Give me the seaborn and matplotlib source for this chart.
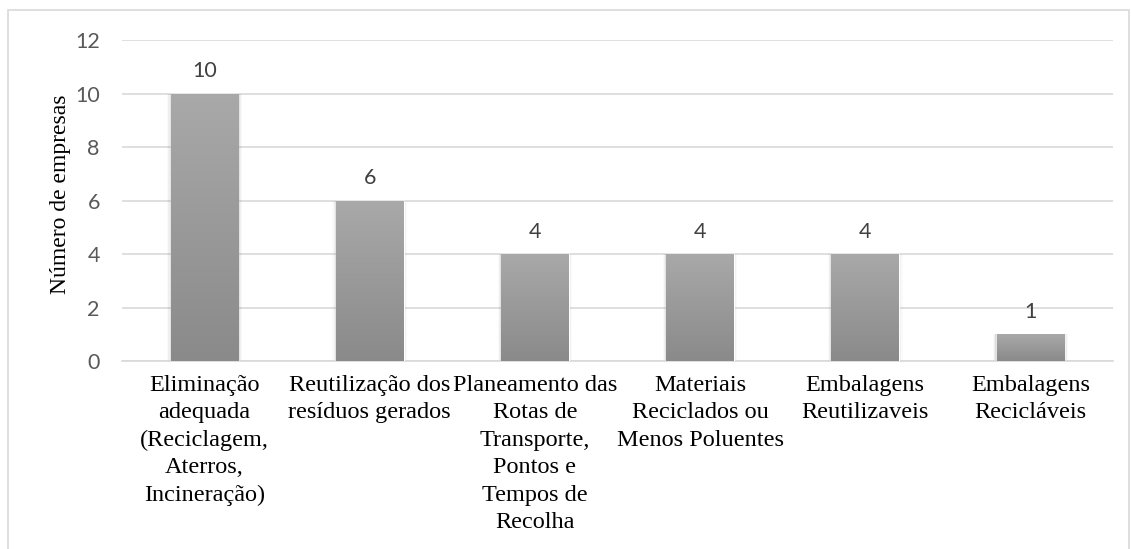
import numpy as np
import pandas as pd
import seaborn as sns
import matplotlib.pyplot as plt
from matplotlib.patches import Rectangle
from matplotlib.colors import LinearSegmentedColormap

categories = [
    "Eliminação\nadequada\n(Reciclagem,\nAterros,\nIncineração)",
    "Reutilização dos\nresíduos gerados",
    "Planeamento das\nRotas de\nTransporte,\nPontos e\nTempos de\nRecolha",
    "Materiais\nReciclados ou\nMenos Poluentes",
    "Embalagens\nReutilizaveis",
    "Embalagens\nRecicláveis",
]
values = [10, 6, 4, 4, 4, 1]
y_ticks = [0, 2, 4, 6, 8, 10, 12]
y_label = "Número de empresas"

df = pd.DataFrame({"cat": categories, "val": values})

sns.set_theme(style="white")
fig = plt.figure(figsize=(11.31, 5.49), dpi=100)
ax = fig.add_axes([0.1079, 0.3424, 0.8762, 0.5847])

sns.barplot(data=df, x="cat", y="val", ax=ax, color="#9a9a9a", width=0.41,
            saturation=1, zorder=3)

grad = np.linspace(0, 1, 256).reshape(-1, 1)
cmap = LinearSegmentedColormap.from_list("g", ["#8a8a8a", "#a9a9a9"])
for p in ax.patches:
    x0, y0 = p.get_x(), p.get_y()
    w, h = p.get_width(), p.get_height()
    for k, a in enumerate([0.07, 0.045, 0.02]):
        d = 0.007 * (k + 1)
        ax.add_patch(Rectangle((x0 - d, y0), w + 2 * d, h, color="#000000",
                               alpha=a, lw=0, zorder=2))
    im = ax.imshow(grad, extent=[x0, x0 + w, y0, y0 + h], origin="lower",
                   cmap=cmap, aspect="auto", zorder=4)
    im.set_clip_path(p)
    ax.text(x0 + w / 2, y0 + h + 0.45, f"{int(h)}", ha="center", va="bottom",
            fontsize=15.5, color="#404040", family="Lato", zorder=5)

ax.set_xlim(-0.5, len(categories) - 0.5)
ax.set_ylim(0, 12)
ax.set_yticks(y_ticks)
ax.set_yticklabels([str(t) for t in y_ticks], family="Lato", fontsize=15.5, color="#595959")
ax.yaxis.grid(True, color="#d9d9d9", lw=1.2, zorder=0)
ax.set_axisbelow(True)
for s in ["top", "right", "left"]:
    ax.spines[s].set_visible(False)
ax.spines["bottom"].set_color("#d9d9d9")
ax.spines["bottom"].set_linewidth(1.2)
ax.tick_params(axis="y", length=0, pad=16)
ax.tick_params(axis="x", length=0, pad=10)
ax.set_xticks(range(len(categories)))
ax.set_xticklabels(categories, family="Liberation Serif", fontsize=17.5,
                   color="#000000", linespacing=1.4, va="top")
ax.set_xlabel("")
ax.set_ylabel(y_label, family="Liberation Serif", fontsize=17, color="#000000")
ax.yaxis.set_label_coords(-0.052, 0.52)

fig.patches.append(Rectangle((8 / 1131, -0.01), 1121 / 1131, 1 - 10 / 549 + 0.01,
                             transform=fig.transFigure, fill=False,
                             edgecolor="#d9d9d9", lw=1.2))

fig.savefig("out.png", dpi=100)
